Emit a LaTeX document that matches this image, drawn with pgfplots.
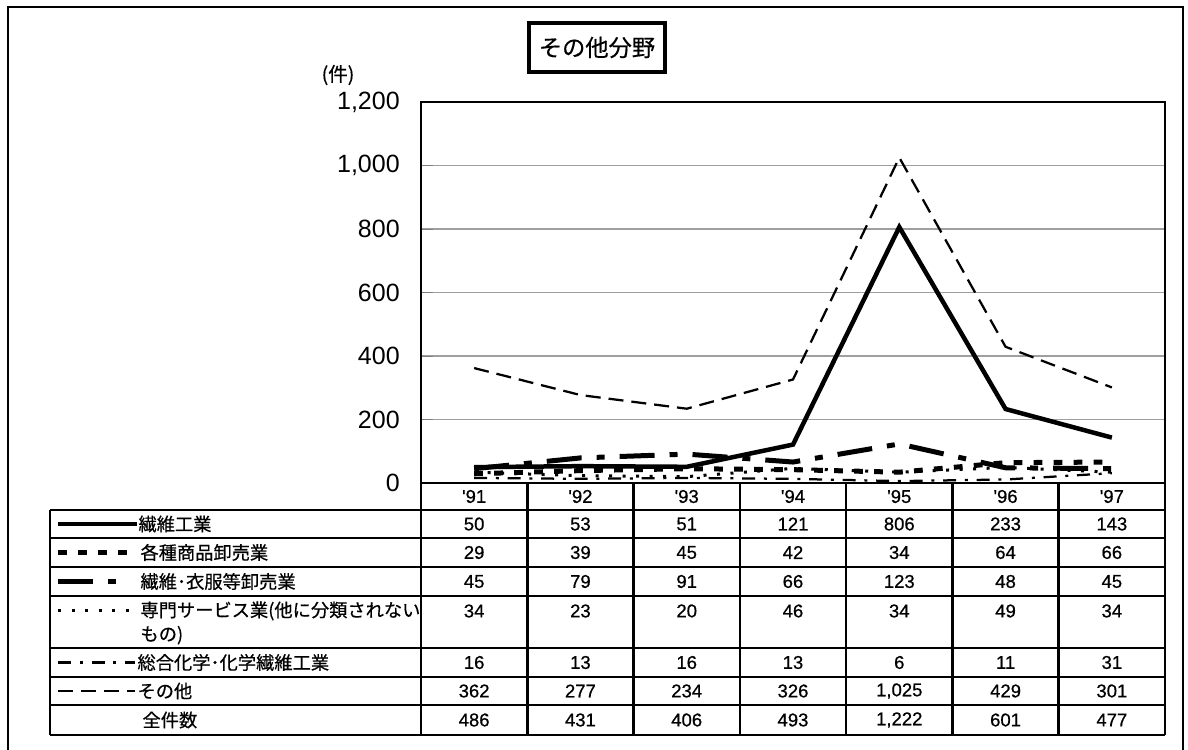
\documentclass[border=0pt]{standalone}
\usepackage{pgfplots}
\pgfplotsset{compat=1.18}
\usepackage{pgfplotstable}
\usepackage{fontspec}
\setmainfont{Liberation Sans}
\newfontfamily\jp[FakeBold=0.5]{Noto Sans CJK JP}
\newfontfamily\numf[FakeBold=0.6]{Liberation Sans}

% x = category centre (columns of the table), one column per series
\pgfplotstableread{
x    sen  kakushu  ifuku  senmon  sogo  sonota
0.5  50   29       45     34      16    362
1.5  53   39       79     23      13    277
2.5  51   45       91     20      16    234
3.5  121  42       66     46      13    326
4.5  806  34       123    34      6     1025
5.5  233  64       48     49      11    429
6.5  143  66       45     34      31    301
}\datatable

\tikzset{
  s1/.style={line width=1.8pt},
  s2/.style={line width=2pt, dash pattern=on 3.5pt off 4.5pt},
  s3/.style={line width=2pt, dash pattern=on 14pt off 6pt on 3.2pt off 6pt},
  s4/.style={line width=1.2pt, dash pattern=on 1.2pt off 4.2pt},
  s5/.style={line width=0.9pt, dash pattern=on 5.2pt off 3.5pt on 1.2pt off 3.5pt},
  s6/.style={line width=0.9pt, dash pattern=on 6pt off 3.2pt},
}
\newcommand\numfont{\numf\fontsize{7.4}{9}\selectfont}
\newcommand\lblfont{\jp\fontsize{7.3}{9.6}\selectfont}
\newcommand\rowvals[2]{\foreach \v [count=\i from 0] in {#2}
  \node[font=\numfont] at ({421+106.286*(\i+0.5)},#1) {\v};}

\begin{document}
\begin{tikzpicture}[x=0.4pt,y=-0.4pt]
\useasboundingbox (0,0) rectangle (1188,750);
% outer frame
\draw[line width=1.1pt] (8,760) -- (8,7) -- (1183,7) -- (1183,760);
% title
\node[draw, line width=1.4pt, minimum width=54.4pt, minimum height=19.6pt,
      font=\jp\fontsize{9.3}{11}\selectfont] at (597,47.5) {その他分野};
\node[font=\jp\fontsize{7.8}{9}\selectfont] at (338,75) {(件)};

% plot area: 421..1165 px across, 102..483 px down (0.4pt per px)
\begin{scope}[x=1cm,y=1cm]
\begin{axis}[
    at={(168.4pt,-193.2pt)}, anchor=south west,
    scale only axis, width=297.6pt, height=152.4pt,
    xmin=0, xmax=7, ymin=0, ymax=1200,
    xtick=\empty,
    ytick={0,200,...,1200},
    ytick pos=left,
    tick align=inside,
    major tick length=4.8pt,
    ymajorgrids,
    major grid style={gray!75, line width=0.5pt},
    axis line style={line width=1pt},
    yticklabel style={font=\fontsize{10}{12}\selectfont, xshift=-5pt},
    /pgf/number format/assume math mode=true,
    /pgf/number format/1000 sep={,},
  ]
  \addplot[s6, black] table[x=x, y=sonota] {\datatable};
  \addplot[s5, black] table[x=x, y=sogo] {\datatable};
  \addplot[s4, black] table[x=x, y=senmon] {\datatable};
  \addplot[s2, black] table[x=x, y=kakushu] {\datatable};
  \addplot[s3, black] table[x=x, y=ifuku] {\datatable};
  \addplot[s1, black] table[x=x, y=sen] {\datatable};
\end{axis}
\end{scope}

% data table
\begin{scope}[line width=1pt]
  \foreach \yy in {510,538,567,596,648,677,705,735}
    \draw (50,\yy) -- (1165,\yy);
  \draw (50,510) -- (50,735);
  \foreach \i in {0,...,7}
    \draw ({421+106.286*\i},483) -- ({421+106.286*\i},735);
\end{scope}
% year header
\foreach \yr [count=\i from 0] in {'91,'92,'93,'94,'95,'96,'97}
  \node[font=\numfont] at ({421+106.286*(\i+0.5)},496.5) {\yr};
% row labels with line samples
\draw[s1] (58,524) -- (137,524);
\node[font=\lblfont, anchor=west, inner sep=0] at (138,524) {繊維工業};
\draw[s2] (58,552.5) -- (130,552.5);
\node[font=\lblfont, anchor=west, inner sep=0] at (140,552.5) {各種商品卸売業};
\draw[s3] (58,581.5) -- (130,581.5);
\node[font=\lblfont, anchor=west, inner sep=0] at (140,581.5) {繊維･衣服等卸売業};
\draw[s4] (58,611) -- (130,611);
\node[font=\lblfont, anchor=north west, inner sep=0, align=left] at (140,601)
  {専門サービス業(他に分類されない\\もの)};
\draw[s5] (58,662.5) -- (135,662.5);
\node[font=\lblfont, anchor=west, inner sep=0] at (137,662.5) {総合化学･化学繊維工業};
\draw[s6] (58,691) -- (135,691);
\node[font=\lblfont, anchor=west, inner sep=0] at (137,691) {その他};
\node[font=\lblfont, anchor=west, inner sep=0] at (142,720) {全件数};
% values
\rowvals{524}{50,53,51,121,806,233,143}
\rowvals{552.5}{29,39,45,42,34,64,66}
\rowvals{581.5}{45,79,91,66,123,48,45}
\rowvals{611}{34,23,20,46,34,49,34}
\rowvals{662.5}{16,13,16,13,6,11,31}
\rowvals{691}{362,277,234,326,{1,025},429,301}
\rowvals{720}{486,431,406,493,{1,222},601,477}
\end{tikzpicture}
\end{document}
